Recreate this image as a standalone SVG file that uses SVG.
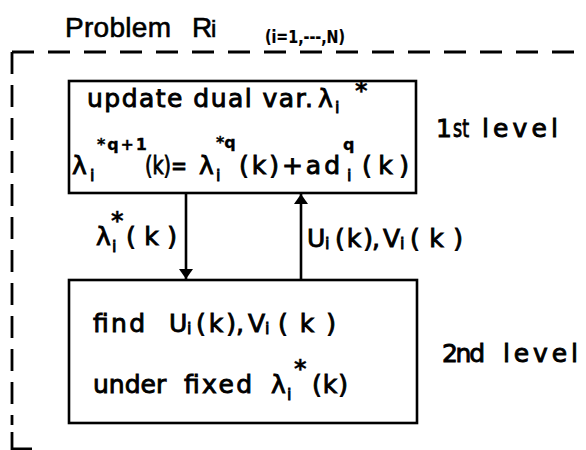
<svg xmlns="http://www.w3.org/2000/svg" width="586" height="450" viewBox="0 0 586 450">
<defs>
<style>
text{font-family:"DejaVu Sans","Liberation Sans",sans-serif;fill:#000;stroke:#000;stroke-width:0.9}
.m{font-size:25px}
.s{font-size:16px}
.sup{font-size:16px;font-weight:bold;stroke-width:0.3}
.st{font-size:24px;font-weight:bold;stroke-width:0.3}
.t{font-family:"Liberation Sans",sans-serif;font-size:28px;stroke-width:0.6}
.box{fill:none;stroke:#000;stroke-width:2.6}
.dash{fill:none;stroke:#000;stroke-width:2.8}
.conn{fill:none;stroke:#000;stroke-width:2.6}
</style>
<marker id="ah" viewBox="0 0 10 14" refX="10" refY="7" markerWidth="10" markerHeight="14" markerUnits="userSpaceOnUse" orient="auto">
<path d="M0,0 L10,7 L0,14 Z" fill="#000"/>
</marker>
</defs>
<rect width="586" height="450" fill="#fff"/>
<g id="frame">
<path class="dash" d="M12,52 H586" stroke-dasharray="22 14"/>
<path class="dash" d="M12,52 V425" stroke-dasharray="22 11"/>
<path class="dash" d="M12,432 V449 H32"/>
</g>
<g id="title">
<text class="t" x="65" y="37" textLength="106">Problem</text>
<text class="t" x="192" y="37">R</text>
<text class="t" x="211" y="37" style="font-size:24px">i</text>
<text class="s" x="265" y="43" style="font-size:17px;font-weight:bold;stroke-width:0.2" textLength="80" lengthAdjust="spacingAndGlyphs">(i=1,---,N)</text>
</g>
<g id="node-level1">
<rect class="box" x="69" y="81" width="347" height="112"/>
<text class="m" x="87" y="107" textLength="226">update dual var.</text>
<text class="m" x="318" y="107">λ</text>
<text class="s" x="335" y="113">i</text>
<text class="st" x="355" y="99">*</text>
<text class="m" x="72" y="174">λ</text>
<text class="s" x="90" y="181">i</text>
<text class="sup" x="97" y="150" textLength="50">*q+1</text>
<text class="m" x="145" y="174" textLength="42" lengthAdjust="spacingAndGlyphs">(k)=</text>
<text class="m" x="199" y="174">λ</text>
<text class="s" x="216" y="181">i</text>
<text class="sup" x="216" y="148">*q</text>
<text class="m" x="239" y="174" textLength="101">(k)+ad</text>
<text class="sup" x="343" y="150">q</text>
<text class="s" x="347" y="181">i</text>
<text class="m" x="362" y="174" textLength="47">(k)</text>
</g>
<g id="node-level2">
<rect class="box" x="69" y="280" width="348" height="143"/>
<text class="m" x="93" y="332" textLength="52">find</text>
<text class="m" x="169" y="332">U</text>
<text class="s" x="187" y="334">i</text>
<text class="m" x="196" y="332" textLength="40">(k)</text>
<text class="m" x="236" y="332">,</text>
<text class="m" x="248" y="332">V</text>
<text class="s" x="265" y="334">i</text>
<text class="m" x="278" y="332" textLength="58">(k)</text>
<text class="m" x="93" y="393">under</text>
<text class="m" x="184" y="393" textLength="68">fixed</text>
<text class="m" x="271" y="393">λ</text>
<text class="s" x="287" y="400">i</text>
<text class="st" x="294" y="377">*</text>
<text class="m" x="312" y="393" textLength="36">(k)</text>
</g>
<g id="connectors">
<path class="conn" d="M186,193 V279" marker-end="url(#ah)"/>
<path class="conn" d="M301,280 V194" marker-end="url(#ah)"/>
</g>
<g id="labels">
<text class="m" x="96" y="245">λ</text>
<text class="s" x="112" y="252">i</text>
<text class="st" x="111" y="229">*</text>
<text class="m" x="126" y="245" textLength="51">(k)</text>
<text class="m" x="307" y="247">U</text>
<text class="s" x="325" y="249">i</text>
<text class="m" x="335" y="247" textLength="38">(k)</text>
<text class="m" x="372" y="247">,</text>
<text class="m" x="383" y="247">V</text>
<text class="s" x="400" y="249">i</text>
<text class="m" x="410" y="247" textLength="53">(k)</text>
<text class="m" x="436" y="137">1</text>
<text class="m" x="453" y="137" textLength="16" lengthAdjust="spacingAndGlyphs">st</text>
<text class="m" x="482" y="137" textLength="76">level</text>
<text class="m" x="442" y="362" textLength="43">2nd</text>
<text class="m" x="503" y="362" textLength="75">level</text>
</g>
</svg>
